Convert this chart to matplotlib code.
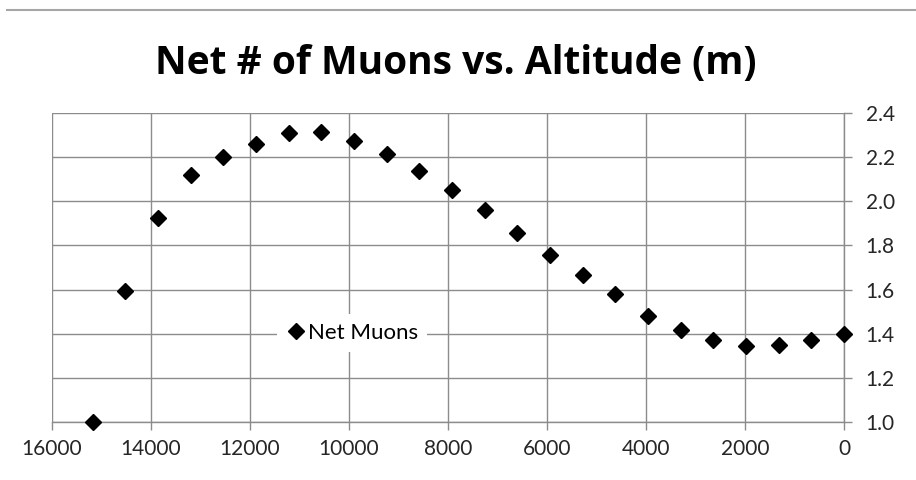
import matplotlib
matplotlib.use("Agg")
import matplotlib.pyplot as plt
from matplotlib.lines import Line2D

plt.rcParams['font.family'] = ['Lato', 'DejaVu Sans']

# altitude (m) and net number of muons
altitude = [15180, 14520, 13860, 13200, 12540, 11880, 11220, 10560, 9900,
            9240, 8580, 7920, 7260, 6600, 5940, 5280, 4620, 3960, 3300,
            2640, 1980, 1320, 660, 0]
net_muons = [1.00, 1.593, 1.923, 2.118, 2.199, 2.260, 2.308, 2.314, 2.275,
             2.214, 2.139, 2.051, 1.960, 1.855, 1.755, 1.666, 1.579, 1.480,
             1.417, 1.371, 1.344, 1.350, 1.371, 1.399]

x_ticks = [16000, 14000, 12000, 10000, 8000, 6000, 4000, 2000, 0]
y_ticks = [1.0, 1.2, 1.4, 1.6, 1.8, 2.0, 2.2, 2.4]

grid_col = '#8c8c8c'

fig = plt.figure(figsize=(9.16, 4.8), dpi=100)
ax = fig.add_axes([0.0568, 0.1208, 0.8646, 0.6438])

ax.plot(altitude, net_muons, linestyle='none', marker='D', markersize=8.5,
        color='black', label='Net Muons', zorder=3, clip_on=False)

ax.set_xlim(16000, 0)
ax.set_ylim(1.0, 2.4)
ax.set_xticks(x_ticks)
ax.set_yticks(y_ticks)
ax.set_xticklabels([str(v) for v in x_ticks])
ax.set_yticklabels([f'{v:.1f}' for v in y_ticks])

ax.yaxis.tick_right()
ax.tick_params(axis='both', direction='out', length=5.5, width=1,
               color=grid_col, labelsize=15, labelcolor='#262626')
ax.tick_params(axis='x', pad=7)
ax.tick_params(axis='y', pad=10)

ax.grid(True, color=grid_col, linewidth=1)
ax.set_axisbelow(True)
for s in ['top', 'left']:
    ax.spines[s].set_visible(False)
for s in ['bottom', 'right']:
    ax.spines[s].set_color(grid_col)
    ax.spines[s].set_linewidth(1)

leg = ax.legend(loc='center', bbox_to_anchor=(0.379, 0.288), frameon=True,
                fontsize=16, handletextpad=0.1, handlelength=0.9,
                borderpad=0.4, borderaxespad=0, markerscale=0.9)
leg.get_frame().set_edgecolor('none')
leg.get_frame().set_facecolor('white')
leg.get_frame().set_alpha(1)

fig.text(0.497, 0.867, 'Net # of Muons vs. Altitude (m)', ha='center',
         va='center', fontsize=28, fontweight='bold', color='black',
         family=['Open Sans', 'DejaVu Sans'])

# spreadsheet border at the very top of the screenshot
fig.add_artist(Line2D([0.008, 1.0], [1 - 9.5 / 480, 1 - 9.5 / 480],
                      transform=fig.transFigure, color='#a6a6a6', linewidth=1.5))

fig.savefig('out.png', dpi=100, facecolor='white')
